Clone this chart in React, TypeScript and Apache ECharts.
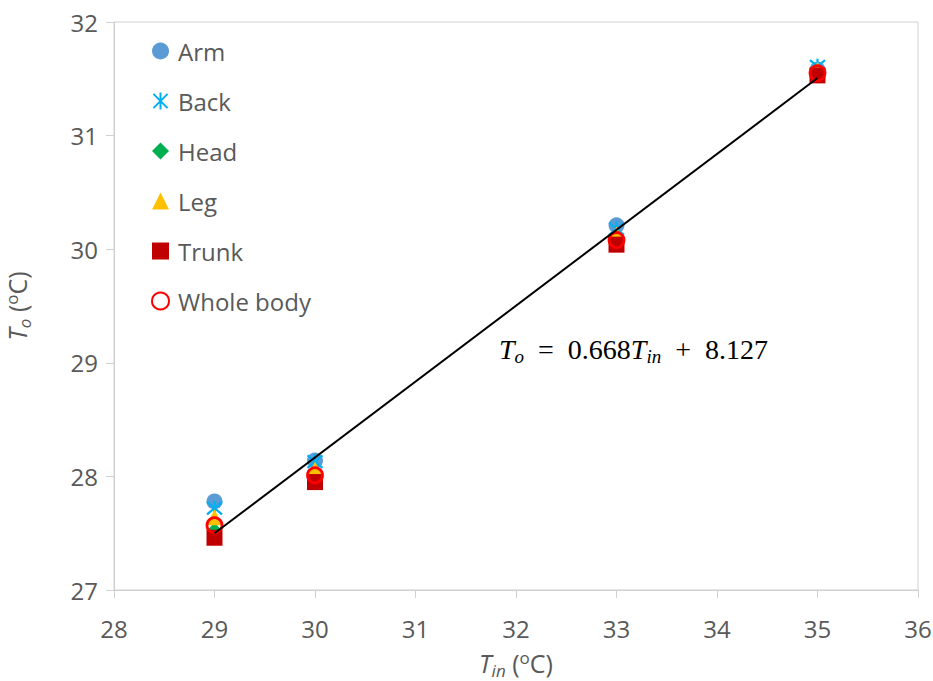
import React, { useEffect, useRef } from "react";
import * as echarts from "echarts";

const tinValues = [29, 30, 33, 35];
const armValues = [27.78, 28.14, 30.21, 31.58];
const backValues = [27.72, 28.13, 30.18, 31.61];
const headValues = [27.53, 28.0, 30.1, 31.55];
const legValues = [27.64, 28.06, 30.13, 31.58];
const trunkValues = [27.46, 27.95, 30.04, 31.53];
const wholeValues = [27.57, 28.01, 30.08, 31.55];
const fitX = [29, 35];
const fitY = [27.499, 31.507];
const seriesNames = ["Arm", "Back", "Head", "Leg", "Trunk", "Whole body"];

const pairs = (ys: number[]) => tinValues.map((x, i) => [x, ys[i]]);

const ASTERISK = "path://M0 1L10 11M10 1L0 11M5 0L5 12";

export default function App() {
  const ref = useRef<HTMLDivElement>(null);
  useEffect(() => {
    if (!ref.current) return;
    const chart = echarts.init(ref.current, undefined, { renderer: "svg" });
    const font = "'Open Sans', 'Noto Sans', sans-serif";
    const grey = "#595959";
    const mathFont = "'Liberation Serif', 'DejaVu Serif', serif";
    const nameRich = {
      it: { fontFamily: font, fontSize: 25, fontStyle: "italic", color: grey, lineHeight: 32 },
      sub: { fontFamily: font, fontSize: 17, fontStyle: "italic", color: grey, padding: [15, 0, 0, 0] },
      n: { fontFamily: font, fontSize: 25, color: grey, lineHeight: 32 },
      sup: { fontFamily: font, fontSize: 17, color: grey, padding: [0, 0, 12, 0] },
    };
    chart.setOption({
      animation: false,
      backgroundColor: "#ffffff",
      grid: {
        left: 114,
        right: 15,
        top: 22,
        bottom: 91,
        show: true,
        borderColor: "#d0d0d0",
        borderWidth: 1,
        outerBoundsMode: "none",
        containLabel: false,
      },
      legend: {
        data: seriesNames,
        orient: "vertical",
        left: 146,
        top: 34,
        itemWidth: 17,
        itemHeight: 17,
        itemGap: 26,
        textStyle: { fontFamily: font, fontSize: 24, lineHeight: 24, color: grey, padding: [0, 0, 0, 4] },
      },
      xAxis: {
        type: "value",
        min: 28,
        max: 36,
        interval: 1,
        splitLine: { show: false },
        axisLine: { show: true, lineStyle: { color: "#d0d0d0" } },
        axisTick: { show: true, length: 8, lineStyle: { color: "#d0d0d0" } },
        axisLabel: { fontFamily: font, fontSize: 24, color: grey, margin: 26 },
        name: "{it|T}{sub|in}{n| (}{sup|o}{n|C)}",
        nameLocation: "middle",
        nameGap: 57,
        nameTextStyle: { color: grey, rich: nameRich },
      },
      yAxis: {
        type: "value",
        min: 27,
        max: 32,
        interval: 1,
        splitLine: { show: false },
        axisLine: { show: true, lineStyle: { color: "#d0d0d0" } },
        axisTick: { show: true, length: 8, lineStyle: { color: "#d0d0d0" } },
        axisLabel: { fontFamily: font, fontSize: 24, color: grey, margin: 16 },
        name: "{it|T}{sub|o}{n| (}{sup|o}{n|C)}",
        nameLocation: "middle",
        nameGap: 81,
        nameTextStyle: { color: grey, rich: nameRich },
      },
      graphic: [
        {
          type: "text",
          left: 499,
          top: 335,
          style: {
            text: "{it|T}{sub|o}{n|  =  0.668}{it|T}{sub|in}{n|  +  8.127}",
            rich: {
              it: { fontFamily: mathFont, fontSize: 28, fontStyle: "italic", fill: "#000", lineHeight: 36 },
              n: { fontFamily: mathFont, fontSize: 28, fill: "#000", lineHeight: 36 },
              sub: { fontFamily: mathFont, fontSize: 19, fontStyle: "italic", fill: "#000", padding: [14, 0, 0, 0] },
            },
          },
        },
      ],
      series: [
        {
          name: "Arm",
          type: "scatter",
          symbol: "circle",
          symbolSize: 16,
          itemStyle: { color: "#5B9BD5", opacity: 1 },
          data: pairs(armValues),
          z: 2,
        },
        {
          name: "Back",
          type: "scatter",
          symbol: ASTERISK,
          symbolSize: 15,
          itemStyle: { color: "transparent", borderColor: "#00B0F0", borderWidth: 2.2, opacity: 1 },
          data: pairs(backValues),
          z: 3,
        },
        {
          name: "Head",
          type: "scatter",
          symbol: "diamond",
          symbolSize: 14,
          itemStyle: { color: "#00B050", opacity: 1 },
          data: pairs(headValues),
          z: 4,
        },
        {
          name: "Leg",
          type: "scatter",
          symbol: "triangle",
          symbolSize: 16,
          itemStyle: { color: "#FFC000", opacity: 1 },
          data: pairs(legValues),
          z: 5,
        },
        {
          name: "Trunk",
          type: "scatter",
          symbol: "rect",
          symbolSize: 16,
          itemStyle: { color: "#C00000", opacity: 1 },
          data: pairs(trunkValues),
          z: 6,
        },
        {
          name: "Whole body",
          type: "scatter",
          symbol: "circle",
          symbolSize: 15,
          itemStyle: { color: "transparent", borderColor: "#FF0000", borderWidth: 2.8, opacity: 1 },
          data: pairs(wholeValues),
          z: 7,
        },
        {
          name: "fit",
          type: "line",
          data: fitX.map((x, i) => [x, fitY[i]]),
          symbol: "none",
          lineStyle: { color: "#000000", width: 2 },
          itemStyle: { color: "#000000" },
          z: 8,
          silent: true,
        },
      ],
    });
    return () => chart.dispose();
  }, []);
  return (
    <div
      ref={ref}
      style={{ position: "fixed", left: 0, top: 0, width: 933, height: 681, background: "#fff" }}
    />
  );
}
